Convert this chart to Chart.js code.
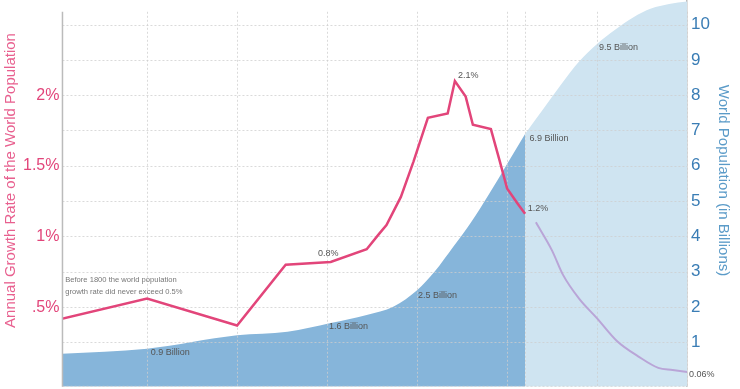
<!DOCTYPE html>
<html lang="en">
<head>
<meta charset="UTF-8">
<title>World Population Growth</title>
<script src="https://cdn.jsdelivr.net/npm/chart.js"></script>
<style>
  html, body { margin: 0; padding: 0; background: #fff; overflow: hidden; }
  /* the chart is a bit taller than the window: the top and the year labels get cut like in the source */
  .wrap { position: relative; top: -40px; width: 740px; height: 446px; }
</style>
</head>
<body>
<div class="wrap"><canvas id="popChart"></canvas></div>
<script>
// annual growth rate (%), historic
const rateYears = [1750, 1800, 1850, 1877, 1902, 1922, 1929, 1933, 1941, 1948, 1956, 1967, 1971, 1977, 1981, 1991, 1996, 2000, 2006, 2010];
const rateValues = [0.41, 0.56, 0.37, 0.80, 0.82, 0.91, 1.02, 1.08, 1.28, 1.53, 1.84, 1.87, 2.10, 1.99, 1.79, 1.76, 1.53, 1.34, 1.23, 1.16];
// annual growth rate (%), projection
const projRateYears = [2016, 2025, 2031, 2040, 2050, 2061, 2073, 2084, 2092, 2100];
const projRateValues = [1.10, 0.90, 0.73, 0.56, 0.42, 0.26, 0.15, 0.07, 0.055, 0.04];
// world population (billions), historic
const popYears = [1750, 1800, 1850, 1878, 1902, 1922, 1937, 1950, 1960, 1970, 1980, 1990, 2000, 2010];
const popValues = [0.67, 0.82, 1.2, 1.3, 1.55, 1.78, 2.02, 2.48, 3.02, 3.7, 4.4, 5.2, 6.05, 6.9];
// world population (billions), projection
const projPopYears = [2010, 2020, 2030, 2040, 2050, 2060, 2070, 2080, 2090, 2100];
const projPopValues = [6.9, 7.6, 8.3, 8.95, 9.45, 9.85, 10.2, 10.45, 10.58, 10.65];
// axis ticks
const yearTicks = [1800, 1850, 1900, 1950, 2000, 2010, 2050, 2100];
const rateTicks = [0.25, 0.5, 0.75, 1, 1.25, 1.5, 1.75, 2, 2.25, 2.5];
const popTicks = [1, 2, 3, 4, 5, 6, 7, 8, 9, 10];
const gridTop = 2.59; // grid and left axis line stop here (in %)

// text notes on the chart (data coordinates)
const notes = [
  { text: 'Before 1800 the world population', x: 1754.5, y: 0.69, axis: 'yRate', size: 7.6 },
  { text: 'growth rate did never exceed 0.5%', x: 1754.5, y: 0.61, axis: 'yRate', size: 7.6 },
  { text: '0.8%', x: 1895, y: 0.88, axis: 'yRate' },
  { text: '2.1%', x: 1972.7, y: 2.14, axis: 'yRate' },
  { text: '1.2%', x: 2011.5, y: 1.20, axis: 'yRate' },
  { text: '0.06%', x: 2101, y: 0.02, axis: 'yRate' },
  { text: '0.9 Billion', x: 1802, y: 0.71, axis: 'yPop' },
  { text: '1.6 Billion', x: 1901, y: 1.44, axis: 'yPop' },
  { text: '2.5 Billion', x: 1950.5, y: 2.32, axis: 'yPop' },
  { text: '6.9 Billion', x: 2012.5, y: 6.77, axis: 'yPop' },
  { text: '9.5 Billion', x: 2051, y: 9.35, axis: 'yPop' }
];

const rateMin = -0.064, rateMax = 2.856;
const pink = '#e2457a';
const blueText = '#3a7db5';
const fontFam = "'Helvetica Neue', Helvetica, Arial, 'Liberation Sans', sans-serif";

// dotted grid, drawn over the blue areas but under the lines
const gridPlugin = {
  id: 'dotGrid',
  afterDatasetDraw(chart, args) {
    if (args.index !== 2) return;
    const ctx = chart.ctx;
    const xs = chart.scales.x, ys = chart.scales.yRate;
    const area = chart.chartArea;
    const top = ys.getPixelForValue(gridTop);
    ctx.save();
    ctx.strokeStyle = 'rgba(205,205,205,0.75)';
    ctx.lineWidth = 1;
    ctx.setLineDash([2, 2]);
    ctx.beginPath();
    yearTicks.forEach(v => {
      const x = Math.round(xs.getPixelForValue(v)) + 0.5;
      ctx.moveTo(x, top);
      ctx.lineTo(x, area.bottom);
    });
    rateTicks.forEach(v => {
      const y = Math.round(ys.getPixelForValue(v)) + 0.5;
      ctx.moveTo(area.left, y);
      ctx.lineTo(area.right, y);
    });
    ctx.moveTo(area.left, area.bottom - 0.5);
    ctx.lineTo(area.right, area.bottom - 0.5);
    ctx.stroke();
    ctx.restore();
  },
  afterDatasetsDraw(chart) {
    const ctx = chart.ctx;
    const ys = chart.scales.yRate;
    const area = chart.chartArea;
    ctx.save();
    ctx.strokeStyle = '#bbb';
    ctx.lineWidth = 1.5;
    ctx.beginPath();
    ctx.moveTo(area.left, ys.getPixelForValue(gridTop));
    ctx.lineTo(area.left, area.bottom);
    ctx.stroke();
    ctx.restore();
  }
};

const notesPlugin = {
  id: 'notes',
  afterDatasetsDraw(chart) {
    const ctx = chart.ctx;
    const xs = chart.scales.x;
    ctx.save();
    ctx.textAlign = 'left';
    ctx.textBaseline = 'middle';
    notes.forEach(n => {
      const ys = chart.scales[n.axis];
      ctx.font = (n.size || 9) + 'px ' + fontFam;
      ctx.fillStyle = n.size ? '#777' : '#555';
      ctx.fillText(n.text, xs.getPixelForValue(n.x), ys.getPixelForValue(n.y));
    });
    ctx.restore();
  }
};

const toPoints = (xs, ys) => xs.map((x, i) => ({ x: x, y: ys[i] }));

new Chart(document.getElementById('popChart'), {
  type: 'line',
  data: {
    datasets: [{
      label: 'Growth rate',
      data: toPoints(rateYears, rateValues),
      yAxisID: 'yRate',
      borderColor: pink,
      borderWidth: 2.5,
      pointRadius: 0,
      tension: 0,
      fill: false
    }, {
      label: 'Projected growth rate',
      data: toPoints(projRateYears, projRateValues),
      yAxisID: 'yRate',
      borderColor: '#b9a5d7',
      borderWidth: 2,
      pointRadius: 0,
      cubicInterpolationMode: 'monotone',
      fill: false
    }, {
      label: 'Population',
      data: toPoints(popYears, popValues),
      yAxisID: 'yPop',
      borderWidth: 0,
      borderColor: 'rgba(0,0,0,0)',
      backgroundColor: '#86b5da',
      pointRadius: 0,
      cubicInterpolationMode: 'monotone',
      fill: 'start'
    }, {
      label: 'Projected population',
      data: toPoints(projPopYears, projPopValues),
      yAxisID: 'yPop',
      borderWidth: 0,
      borderColor: 'rgba(0,0,0,0)',
      backgroundColor: '#cfe4f1',
      pointRadius: 0,
      cubicInterpolationMode: 'monotone',
      fill: 'start'
    }]
  },
  options: {
    responsive: true,
    maintainAspectRatio: false,
    animation: false,
    layout: { padding: { top: 0, right: 0, left: 2, bottom: 0 } },
    plugins: {
      legend: { display: false },
      tooltip: { enabled: false }
    },
    scales: {
      x: {
        type: 'linear',
        min: 1753,
        max: 2100,
        afterBuildTicks: s => { s.ticks = yearTicks.map(v => ({ value: v })); },
        ticks: { color: '#555', font: { size: 11, family: fontFam }, padding: 3, autoSkip: false, maxRotation: 0, callback: v => String(v) },
        grid: { display: false, drawTicks: false },
        border: { display: false }
      },
      yRate: {
        type: 'linear',
        position: 'left',
        min: rateMin,
        max: rateMax,
        afterBuildTicks: s => { s.ticks = rateTicks.map(v => ({ value: v })); },
        ticks: {
          color: pink,
          font: { size: 16, family: fontFam },
          padding: 3,
          callback: v => {
            if (v === 0.5) return '.5%';
            if (v === 1 || v === 1.5 || v === 2) return v + '%';
            return '';
          }
        },
        grid: { display: false, drawTicks: false },
        border: { display: false },
        title: { display: true, text: 'Annual Growth Rate of the World Population', color: '#e8608f', font: { size: 15, family: fontFam }, padding: { top: 0, bottom: 0 } }
      },
      yPop: {
        type: 'linear',
        position: 'right',
        min: rateMin * 4,
        max: rateMax * 4,
        afterBuildTicks: s => { s.ticks = popTicks.map(v => ({ value: v })); },
        ticks: { color: blueText, font: { size: 17, family: fontFam }, padding: 4 },
        grid: { display: false, drawTicks: false },
        border: { display: true, color: '#bbb', width: 1.5 },
        title: { display: true, text: 'World Population (in Billions)', color: '#5b9bc8', font: { size: 15, family: fontFam }, padding: { top: 8, bottom: 0 } }
      }
    }
  },
  plugins: [gridPlugin, notesPlugin]
});
</script>
</body>
</html>
